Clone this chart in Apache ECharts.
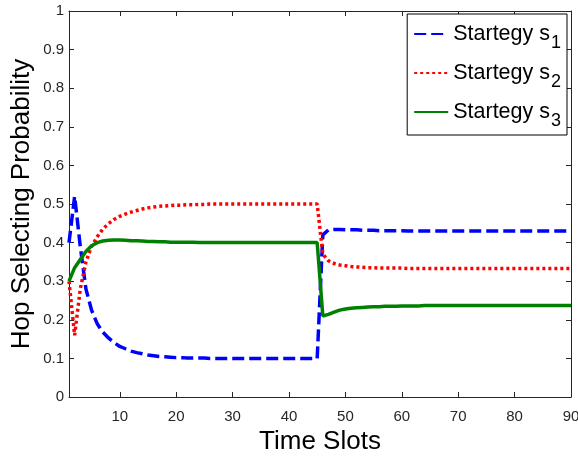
<!DOCTYPE html>
<html>
<head>
    <meta charset="utf-8" />
    <script src="https://cdn.jsdelivr.net/npm/echarts@6.0.0/dist/echarts.min.js"></script>
    <style>
        body {
            margin: 0px;
            overflow: hidden;
            background: #fff;
        }

        #main {
            width: 578px;
            height: 458px;
        }
    </style>
</head>

<body>
    <div id="main"></div>
</body>

<script type="text/javascript">
    // time slots 1..90
    var timeSlots = [
        1, 2, 3, 4, 5, 6, 7, 8, 9, 10,
        11, 12, 13, 14, 15, 16, 17, 18, 19, 20,
        21, 22, 23, 24, 25, 26, 27, 28, 29, 30,
        31, 32, 33, 34, 35, 36, 37, 38, 39, 40,
        41, 42, 43, 44, 45, 46, 47, 48, 49, 50,
        51, 52, 53, 54, 55, 56, 57, 58, 59, 60,
        61, 62, 63, 64, 65, 66, 67, 68, 69, 70,
        71, 72, 73, 74, 75, 76, 77, 78, 79, 80,
        81, 82, 83, 84, 85, 86, 87, 88, 89, 90
    ];
    // strategy s1 (blue, dashed)
    var s1 = [
        0.400, 0.520, 0.390, 0.280, 0.225, 0.190, 0.168, 0.153, 0.141, 0.131,
        0.125, 0.119, 0.115, 0.112, 0.109, 0.107, 0.105, 0.104, 0.103, 0.102,
        0.102, 0.101, 0.101, 0.101, 0.101, 0.100, 0.100, 0.100, 0.100, 0.100,
        0.100, 0.100, 0.100, 0.100, 0.100, 0.100, 0.100, 0.100, 0.100, 0.100,
        0.100, 0.100, 0.100, 0.100, 0.100, 0.420, 0.433, 0.434, 0.434, 0.433,
        0.433, 0.433, 0.432, 0.432, 0.432, 0.431, 0.431, 0.431, 0.431, 0.431,
        0.430, 0.430, 0.430, 0.430, 0.430, 0.430, 0.430, 0.430, 0.430, 0.430,
        0.430, 0.430, 0.430, 0.430, 0.430, 0.430, 0.430, 0.430, 0.430, 0.430,
        0.430, 0.430, 0.430, 0.430, 0.430, 0.430, 0.430, 0.430, 0.430, 0.430
    ];
    // strategy s2 (red, dotted)
    var s2 = [
        0.300, 0.160, 0.280, 0.350, 0.390, 0.415, 0.435, 0.449, 0.460, 0.468,
        0.474, 0.479, 0.483, 0.487, 0.490, 0.492, 0.494, 0.495, 0.496, 0.497,
        0.497, 0.498, 0.498, 0.499, 0.499, 0.500, 0.500, 0.500, 0.500, 0.500,
        0.500, 0.500, 0.500, 0.500, 0.500, 0.500, 0.500, 0.500, 0.500, 0.500,
        0.500, 0.500, 0.500, 0.500, 0.500, 0.370, 0.353, 0.346, 0.342, 0.340,
        0.338, 0.337, 0.336, 0.335, 0.335, 0.334, 0.334, 0.334, 0.334, 0.334,
        0.333, 0.333, 0.333, 0.333, 0.333, 0.333, 0.333, 0.333, 0.333, 0.333,
        0.333, 0.333, 0.333, 0.333, 0.333, 0.333, 0.333, 0.333, 0.333, 0.333,
        0.333, 0.333, 0.333, 0.333, 0.333, 0.333, 0.333, 0.333, 0.333, 0.333
    ];
    // strategy s3 (green, solid)
    var s3 = [
        0.300, 0.335, 0.356, 0.377, 0.392, 0.400, 0.404, 0.406, 0.407, 0.407,
        0.406, 0.405, 0.405, 0.404, 0.403, 0.403, 0.402, 0.402, 0.401, 0.401,
        0.401, 0.401, 0.401, 0.400, 0.400, 0.400, 0.400, 0.400, 0.400, 0.400,
        0.400, 0.400, 0.400, 0.400, 0.400, 0.400, 0.400, 0.400, 0.400, 0.400,
        0.400, 0.400, 0.400, 0.400, 0.400, 0.210, 0.214, 0.220, 0.225, 0.228,
        0.230, 0.231, 0.232, 0.233, 0.234, 0.234, 0.235, 0.235, 0.235, 0.236,
        0.236, 0.236, 0.236, 0.237, 0.237, 0.237, 0.237, 0.237, 0.237, 0.237,
        0.237, 0.237, 0.237, 0.237, 0.237, 0.237, 0.237, 0.237, 0.237, 0.237,
        0.237, 0.237, 0.237, 0.237, 0.237, 0.237, 0.237, 0.237, 0.237, 0.237
    ];
    var seriesNames = ['Startegy s1', 'Startegy s2', 'Startegy s3'];
    var xTicks = [10, 20, 30, 40, 50, 60, 70, 80, 90];

    var fontName = 'Liberation Sans, Arial, sans-serif';
    var axisColor = '#262626';

    function pairs(values) {
        var out = [];
        for (var i = 0; i < timeSlots.length; i++) {
            out.push([timeSlots[i], values[i]]);
        }
        return out;
    }

    var chart = echarts.init(document.getElementById('main'), null, { renderer: 'canvas' });

    var lineAxis = {
        lineStyle: { color: axisColor, width: 1 },
        onZero: false
    };
    var tickStyle = { color: axisColor, width: 1 };

    var option = {
        animation: false,
        backgroundColor: '#fff',
        textStyle: { fontFamily: fontName },
        grid: {
            left: 69,
            right: 7,
            top: 11,
            bottom: 61,
            outerBoundsMode: 'none'
        },
        legend: {
            orient: 'vertical',
            right: 11,
            top: 14,
            padding: [9, 6, 5, 6],
            itemGap: 10,
            itemWidth: 34,
            itemHeight: 14,
            borderColor: '#000',
            borderWidth: 1,
            backgroundColor: '#fff',
            borderRadius: 0,
            itemStyle: { opacity: 0 },
            data: seriesNames,
            formatter: function (name) {
                return '{a|' + name.slice(0, -1) + '}{b|' + name.slice(-1) + '}';
            },
            textStyle: {
                color: '#000',
                fontFamily: fontName,
                rich: {
                    a: { fontSize: 21.5, lineHeight: 36, verticalAlign: 'middle', color: '#000', fontFamily: fontName },
                    b: { fontSize: 18, lineHeight: 18, verticalAlign: 'bottom', color: '#000', fontFamily: fontName, padding: [0, 0, 0, 1] }
                }
            }
        },
        xAxis: [
            {
                type: 'value',
                min: 1,
                max: 90,
                name: 'Time Slots',
                nameLocation: 'middle',
                nameGap: 32,
                nameMoveOverlap: false,
                nameTextStyle: { fontSize: 26, color: '#000', fontFamily: fontName },
                axisLine: lineAxis,
                axisTick: { inside: true, length: 5, lineStyle: tickStyle, customValues: xTicks },
                axisLabel: { customValues: xTicks, margin: 12, fontSize: 15, color: axisColor, fontFamily: fontName },
                splitLine: { show: false }
            },
            {
                type: 'value',
                position: 'top',
                min: 1,
                max: 90,
                axisLine: lineAxis,
                axisTick: { inside: true, length: 5, lineStyle: tickStyle, customValues: xTicks },
                axisLabel: { show: false },
                splitLine: { show: false }
            }
        ],
        yAxis: [
            {
                type: 'value',
                min: 0,
                max: 1,
                interval: 0.1,
                name: 'Hop Selecting Probability',
                nameLocation: 'middle',
                nameGap: 34,
                nameMoveOverlap: false,
                nameTextStyle: { fontSize: 26, color: '#000', fontFamily: fontName },
                axisLine: lineAxis,
                axisTick: { inside: true, length: 5, lineStyle: tickStyle },
                axisLabel: { margin: 5, fontSize: 15, color: axisColor, fontFamily: fontName },
                splitLine: { show: false }
            },
            {
                type: 'value',
                position: 'right',
                min: 0,
                max: 1,
                interval: 0.1,
                axisLine: lineAxis,
                axisTick: { inside: true, length: 5, lineStyle: tickStyle },
                axisLabel: { show: false },
                splitLine: { show: false }
            }
        ],
        series: [
            {
                name: seriesNames[0],
                type: 'line',
                symbol: 'none',
                data: pairs(s1),
                lineStyle: { color: '#0000ff', width: 3.5, type: [12, 5] },
                itemStyle: { color: '#0000ff' }
            },
            {
                name: seriesNames[1],
                type: 'line',
                symbol: 'none',
                data: pairs(s2),
                lineStyle: { color: '#ff0000', width: 3.5, type: [3, 3] },
                itemStyle: { color: '#ff0000' }
            },
            {
                name: seriesNames[2],
                type: 'line',
                symbol: 'none',
                data: pairs(s3),
                lineStyle: { color: '#008000', width: 3.5, type: 'solid' },
                itemStyle: { color: '#008000' }
            }
        ]
    };

    chart.setOption(option);
</script>

</html>
